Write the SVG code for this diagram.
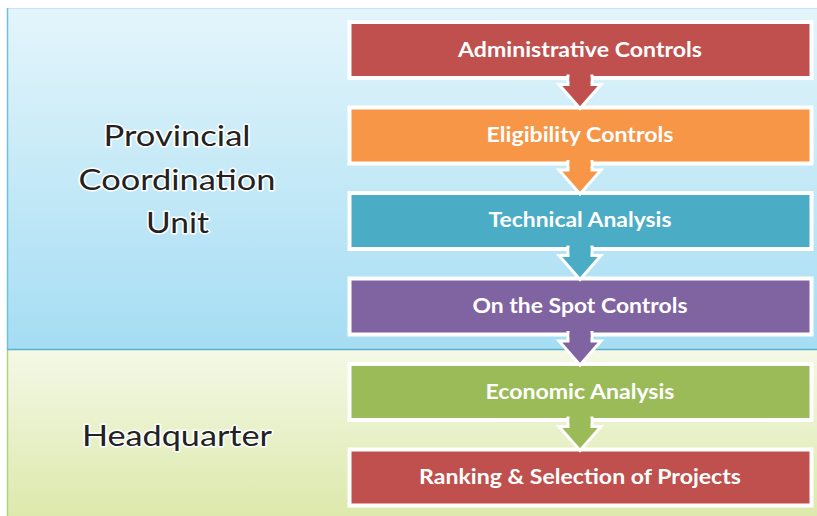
<svg xmlns="http://www.w3.org/2000/svg" width="817" height="516" viewBox="0 0 817 516">
<defs>
<linearGradient id="gBlue" x1="0" y1="0" x2="0" y2="1">
<stop offset="0" stop-color="#e4f5fb"/>
<stop offset="1" stop-color="#a5ddf3"/>
</linearGradient>
<linearGradient id="gGreen" x1="0" y1="0" x2="0" y2="1">
<stop offset="0" stop-color="#f4f8e6"/>
<stop offset="1" stop-color="#dde9ac"/>
</linearGradient>
</defs>
<style>
.box{stroke:#ffffff;stroke-width:4}
.arr{stroke:#ffffff;stroke-width:3;stroke-linejoin:miter}
.bt{font-family:Lato,"Open Sans","DejaVu Sans",sans-serif;font-weight:bold;font-size:20px;fill:#ffffff;text-anchor:middle}
.lt{font-family:Lato,"Open Sans","DejaVu Sans",sans-serif;font-size:29px;fill:#222222;stroke:#ffffff;stroke-width:3;paint-order:stroke;stroke-linejoin:round;text-anchor:middle}
.red{fill:#c0504d}.org{fill:#f79646}.teal{fill:#4bacc6}.pur{fill:#8064a2}.grn{fill:#9bbb59}
</style>
<rect width="817" height="516" fill="#ffffff"/>
<g id="panel-pcu">
<rect x="7" y="8" width="812" height="341.5" fill="url(#gBlue)"/>
<line x1="7" y1="8.5" x2="817" y2="8.5" stroke="#bfe6f4" stroke-width="1"/>
<line x1="7.5" y1="8" x2="7.5" y2="349.5" stroke="#72c1d8" stroke-width="1.5"/>
<text class="lt" x="177" y="146" textLength="147" lengthAdjust="spacingAndGlyphs">Provincial</text>
<text class="lt" x="177" y="190" textLength="197" lengthAdjust="spacingAndGlyphs">Coordination</text>
<text class="lt" x="177.5" y="233" textLength="63" lengthAdjust="spacingAndGlyphs">Unit</text>
</g>
<g id="panel-hq">
<rect x="7" y="350" width="812" height="166" fill="url(#gGreen)"/>
<line x1="7.5" y1="350" x2="7.5" y2="516" stroke="#b6d07c" stroke-width="1.5"/>
<text class="lt" x="177" y="446" textLength="190" lengthAdjust="spacingAndGlyphs">Headquarter</text>
</g>
<line x1="7" y1="349.5" x2="817" y2="349.5" stroke="#5cb0c9" stroke-width="1.5"/>
<g id="n1"><rect class="box red" x="349.5" y="22" width="462" height="56"/><text class="bt" x="580" y="56.5" textLength="244" lengthAdjust="spacingAndGlyphs">Administrative Controls</text></g>
<g id="n2"><rect class="box org" x="349.5" y="107.5" width="462" height="56"/><text class="bt" x="580" y="142" textLength="187" lengthAdjust="spacingAndGlyphs">Eligibility Controls</text></g>
<g id="n3"><rect class="box teal" x="349.5" y="193" width="462" height="56"/><text class="bt" x="580" y="227" textLength="183" lengthAdjust="spacingAndGlyphs">Technical Analysis</text></g>
<g id="n4"><rect class="box pur" x="349.5" y="278.5" width="462" height="56"/><text class="bt" x="580" y="313" textLength="215" lengthAdjust="spacingAndGlyphs">On the Spot Controls</text></g>
<g id="n5"><rect class="box grn" x="349.5" y="364" width="462" height="56"/><text class="bt" x="580" y="398.5" textLength="189" lengthAdjust="spacingAndGlyphs">Economic Analysis</text></g>
<g id="n6"><rect class="box red" x="349.5" y="449.5" width="462" height="56"/><text class="bt" x="580" y="484" textLength="322" lengthAdjust="spacingAndGlyphs">Ranking &amp; Selection of Projects</text></g>
<g id="connectors">
<g transform="translate(0,78)">
<path class="arr red" d="M568,-2 V6.5 H559 L580,30.5 L601,6.5 H592 V-2 Z"/>
<rect class="red" x="569.5" y="-4" width="21" height="7"/>
</g>
<g transform="translate(0,163.5)">
<path class="arr org" d="M568,-2 V6.5 H559 L580,30.5 L601,6.5 H592 V-2 Z"/>
<rect class="org" x="569.5" y="-4" width="21" height="7"/>
</g>
<g transform="translate(0,249)">
<path class="arr teal" d="M568,-2 V6.5 H559 L580,30.5 L601,6.5 H592 V-2 Z"/>
<rect class="teal" x="569.5" y="-4" width="21" height="7"/>
</g>
<g transform="translate(0,334.5)">
<path class="arr pur" d="M568,-2 V6.5 H559 L580,30.5 L601,6.5 H592 V-2 Z"/>
<rect class="pur" x="569.5" y="-4" width="21" height="7"/>
</g>
<g transform="translate(0,420)">
<path class="arr grn" d="M568,-2 V6.5 H559 L580,30.5 L601,6.5 H592 V-2 Z"/>
<rect class="grn" x="569.5" y="-4" width="21" height="7"/>
</g>
</g>
</svg>
